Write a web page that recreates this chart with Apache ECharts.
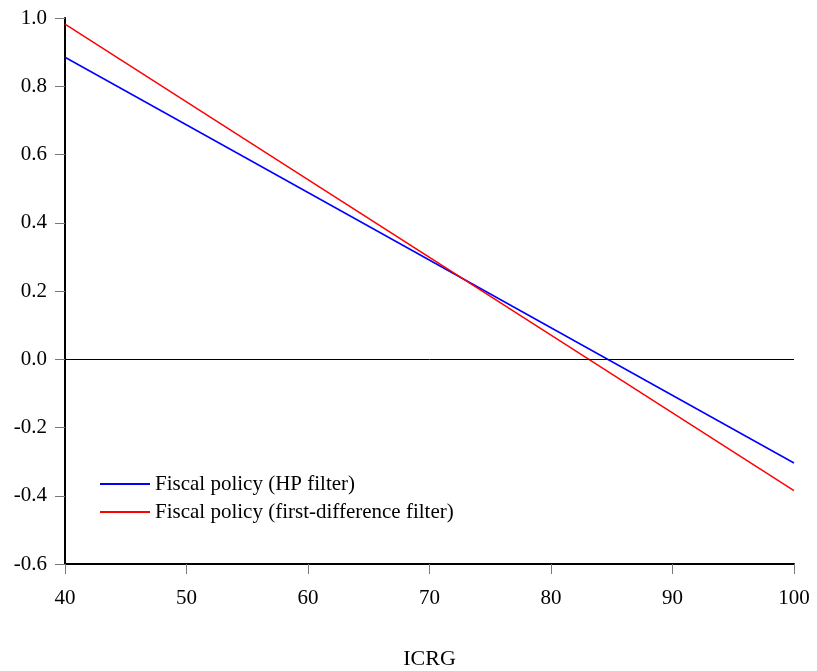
<!DOCTYPE html>
<html>
<head>
<meta charset="utf-8">
<script src="https://cdn.jsdelivr.net/npm/echarts@6/dist/echarts.min.js"></script>
<style>
  html, body { margin: 0; padding: 0; background: #fff; }
  #chart { width: 817px; height: 671px; }
</style>
</head>
<body>
<div id="chart"></div>
<script>
// ICRG values (x)
const icrg = [40, 100]
// Fiscal policy lines
const hpFilter = [0.885, -0.304]
const fdFilter = [0.982, -0.385]
const yTicks = [-0.6, -0.4, -0.2, 0.0, 0.2, 0.4, 0.6, 0.8, 1.0]

const font = 'Liberation Serif, Times New Roman, serif'
const chart = echarts.init(document.getElementById('chart'))

const option = {
  animation: false,
  backgroundColor: '#fff',
  grid: { left: 65, right: 23, top: 18, bottom: 107, outerBoundsMode: 'none', containLabel: false },
  legend: {
    orient: 'vertical',
    left: 95,
    top: 468,
    icon: 'rect',
    itemWidth: 50,
    itemHeight: 2,
    itemGap: 6,
    textStyle: { fontFamily: font, fontSize: 21, color: '#000', lineHeight: 22 },
    data: ['Fiscal policy (HP filter)', 'Fiscal policy (first-difference filter)']
  },
  xAxis: {
    type: 'value',
    min: 40,
    max: 100,
    interval: 10,
    name: 'ICRG',
    nameLocation: 'middle',
    nameGap: 84,
    nameTextStyle: { fontFamily: font, fontSize: 22, color: '#000' },
    axisLine: { onZero: false, lineStyle: { color: '#000', width: 2 } },
    axisTick: { length: 10, lineStyle: { color: '#777' } },
    axisLabel: { fontFamily: font, fontSize: 21, color: '#000', margin: 24 },
    splitLine: { show: false }
  },
  yAxis: {
    type: 'value',
    min: yTicks[0],
    max: yTicks[yTicks.length - 1],
    interval: 0.2,
    axisLine: { show: true, onZero: false, lineStyle: { color: '#000', width: 2 } },
    axisTick: { show: true, length: 10, lineStyle: { color: '#777' } },
    axisLabel: {
      fontFamily: font, fontSize: 21, color: '#000', margin: 18,
      formatter: v => v.toFixed(1)
    },
    splitLine: { show: false }
  },
  series: [
    {
      name: 'Fiscal policy (HP filter)',
      type: 'line',
      symbol: 'none',
      color: '#0000ff',
      lineStyle: { width: 1.5, color: '#0000ff' },
      data: icrg.map((x, i) => [x, hpFilter[i]]),
      markLine: {
        silent: true,
        symbol: 'none',
        label: { show: false },
        lineStyle: { color: '#000', width: 1, type: 'solid' },
        data: [{ yAxis: 0 }]
      }
    },
    {
      name: 'Fiscal policy (first-difference filter)',
      type: 'line',
      symbol: 'none',
      color: '#ff0000',
      lineStyle: { width: 1.5, color: '#ff0000' },
      data: icrg.map((x, i) => [x, fdFilter[i]])
    }
  ]
}
chart.setOption(option)
</script>
</body>
</html>
